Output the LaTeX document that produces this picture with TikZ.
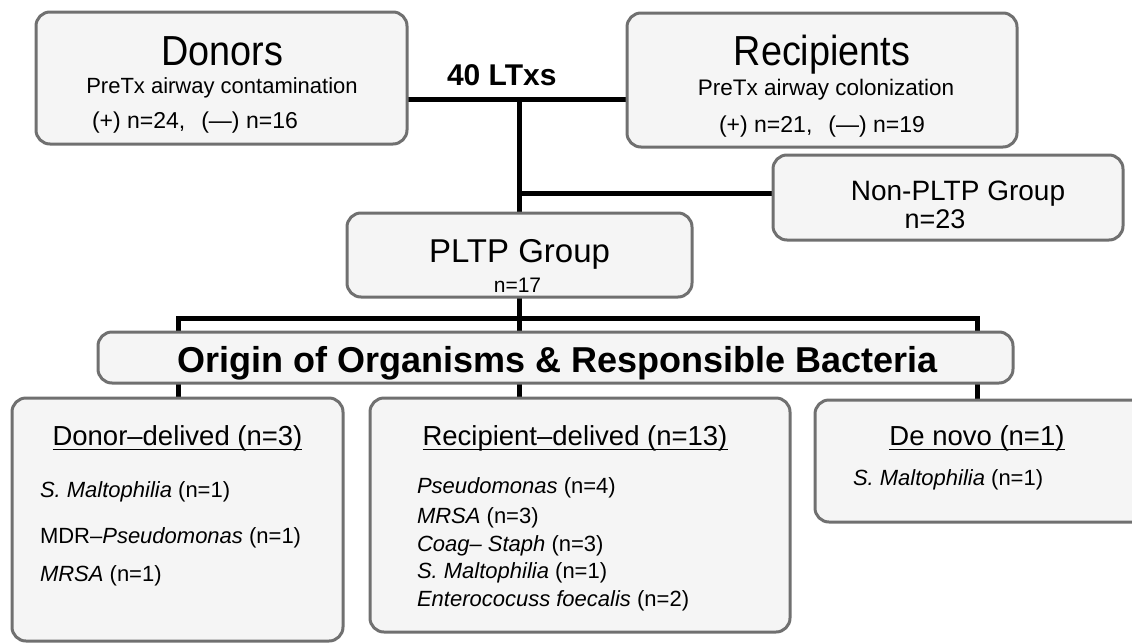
\documentclass[tikz,border=0pt]{standalone}
\usepackage{fontspec}
\setmainfont{Liberation Sans}
\newfontfamily\narrowsans{Liberation Sans}[FakeStretch=0.9]
\usetikzlibrary{calc}
\pgfdeclarelayer{background}
\pgfsetlayers{background,main}
\definecolor{boxfill}{HTML}{F5F5F5}
\definecolor{boxline}{HTML}{707070}
\newcommand{\fsz}[1]{\fontsize{#1}{#1}\selectfont}
\tikzset{
  box/.style={draw=boxline, fill=boxfill, line width=3pt, rounded corners=14pt, inner sep=0pt, outer sep=0pt},
  conn/.style={line width=5pt, draw=black, line join=miter},
  txt/.style={inner sep=0pt, outer sep=0pt, anchor=base},
  txtl/.style={inner sep=0pt, outer sep=0pt, anchor=base west},
  uline/.style={line width=1.6pt, draw=black},
}
\begin{document}
\begin{tikzpicture}[x=1pt, y=-1pt]
\useasboundingbox (0,0) rectangle (1132,643);
\clip (0,0) rectangle (1132,643);

% boxes
\node[box, minimum width=371pt, minimum height=132pt] (donors) at (221.5,78) {};
\node[box, minimum width=390pt, minimum height=134pt] (recip) at (822,80) {};
\node[box, minimum width=350pt, minimum height=85pt] (nonpltp) at (948,197.5) {};
\node[box, minimum width=345pt, minimum height=84pt] (pltp) at (519.5,255) {};
\node[box, minimum width=915pt, minimum height=51pt] (origin) at (555.5,357.5) {};
\node[box, minimum width=331pt, minimum height=243pt] (donorbox) at (177.5,519.5) {};
\node[box, minimum width=420pt, minimum height=234pt] (recipbox) at (580,515) {};
\node[box, minimum width=335pt, minimum height=122pt] (denovo) at (982.5,461) {};

% junction coordinates
\coordinate (j1) at (519.5,99);
\coordinate (j2) at (519.5,193);
\coordinate (busm) at (519.5,318);
\coordinate (busl) at (178,318);
\coordinate (busr) at (977,318);

% connectors
\begin{pgfonlayer}{background}
\draw[conn] (donors.east |- j1) -- (recip.west |- j1);
\draw[conn] (j1) -- (pltp.north);
\draw[conn] (j2) -- (j2 -| nonpltp.west);
\draw[conn] (pltp.south) -- (busm);
\draw[conn] (busl |- origin.north) -- (busl) -- (busr) -- (busr |- origin.north);
\draw[conn] (busm) -- (busm |- origin.north);
\draw[conn] (origin.south -| busl) -- (donorbox.north -| busl);
\draw[conn] (origin.south -| busm) -- (recipbox.north -| busm);
\draw[conn] (origin.south -| busr) -- (denovo.north -| busr);
\end{pgfonlayer}

% top texts
\node[txt] (tdon) at (222,65) {\narrowsans\fsz{42}Donors};
\node[txt] (tdon2) at (222,93) {\fsz{22}PreTx airway contamination};
\node[txtl] (tdon3) at (92,128) {\fsz{23}(+) n=24,\hspace{16pt}(—) n=16};
\node[txtl] (tltx) at (447,85) {\fsz{30}\bfseries 40 LTxs};
\node[txt] (trec) at (822,65) {\narrowsans\fsz{42}Recipients};
\node[txt] (trec2) at (826,95) {\fsz{22.5}PreTx airway colonization};
\node[txt] (trec3) at (822,132) {\fsz{23}(+) n=21,\hspace{16pt}(—) n=19};
\node[txt] (tnon) at (958,200) {\fsz{28}Non-PLTP Group};
\node[txt] (tnon2) at (935,228) {\fsz{27}n=23};
\node[txt] (tpltp) at (519.5,262) {\fsz{33}PLTP Group};
\node[txt] (tpltp2) at (517.5,292) {\fsz{21}n=17};
\node[txt] (torig) at (557.5,372) {\fsz{36}\bfseries Origin of Organisms \& Responsible Bacteria};

% lower titles
\node[txt] (tdd) at (177.5,445) {\fsz{27.5}Donor–delived (n=3)};
\draw[uline] ([yshift=-4.5pt]tdd.base west) -- ([yshift=-4.5pt]tdd.base east);
\node[txt] (trd) at (575,445) {\fsz{27.5}Recipient–delived (n=13)};
\draw[uline] ([yshift=-4.5pt]trd.base west) -- ([yshift=-4.5pt]trd.base east);
\node[txt] (tdn) at (977,445) {\fsz{27.5}De novo (n=1)};
\draw[uline] ([yshift=-4.5pt]tdn.base west) -- ([yshift=-4.5pt]tdn.base east);

% donor items
\node[txtl] (d1) at (40,497) {\fsz{22}\textit{S. Maltophilia} (n=1)};
\node[txtl] (d2) at (40,543) {\fsz{22}MDR–\textit{Pseudomonas} (n=1)};
\node[txtl] (d3) at (40,581) {\fsz{22}\textit{MRSA} (n=1)};

% recipient items
\node[txtl] (r1) at (417,493) {\fsz{22}\textit{Pseudomonas} (n=4)};
\node[txtl] (r2) at (417,523) {\fsz{22}\textit{MRSA} (n=3)};
\node[txtl] (r3) at (417,551) {\fsz{22}\textit{Coag– Staph} (n=3)};
\node[txtl] (r4) at (417,578) {\fsz{22}\textit{S. Maltophilia} (n=1)};
\node[txtl] (r5) at (417,606) {\fsz{22}\textit{Enterococuss foecalis} (n=2)};

% de novo item
\node[txtl] (n1) at (853,485) {\fsz{22}\textit{S. Maltophilia} (n=1)};
\end{tikzpicture}
\end{document}
